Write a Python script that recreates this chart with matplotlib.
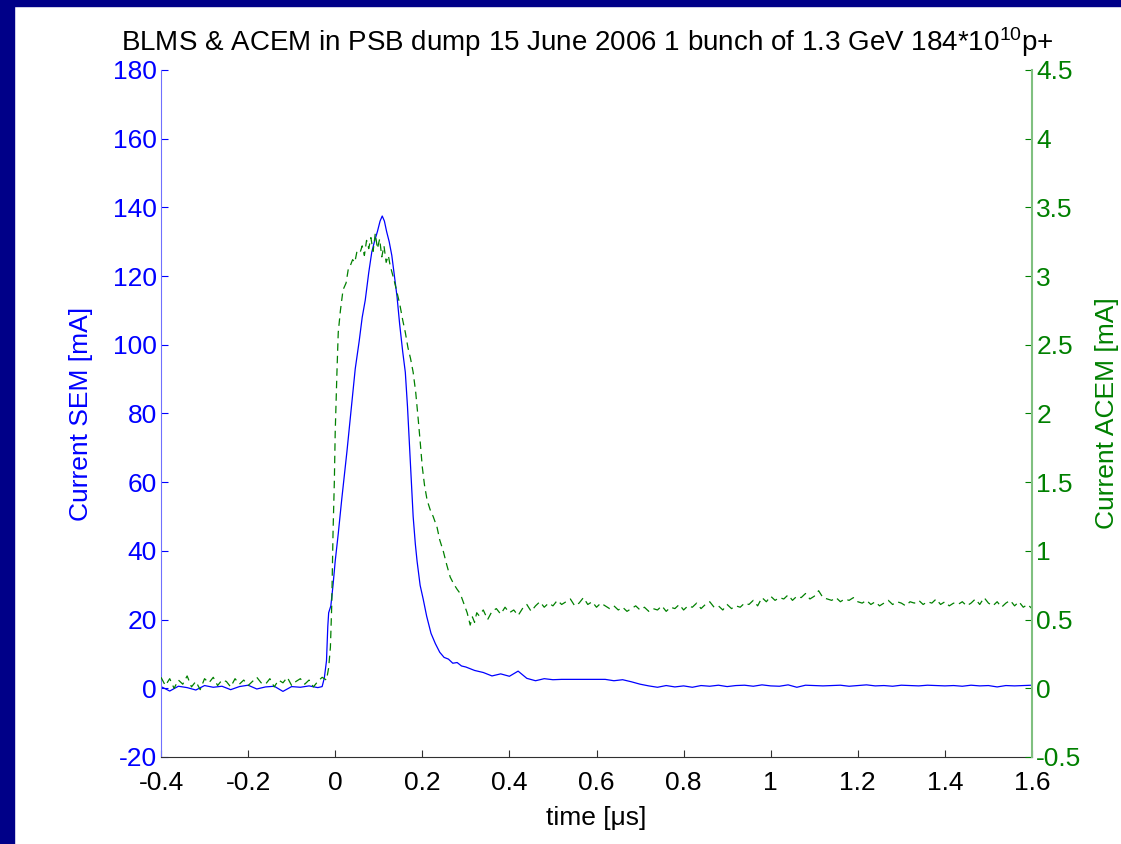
import matplotlib
matplotlib.use('Agg')
import matplotlib.pyplot as plt
from matplotlib.patches import Rectangle
from matplotlib.ticker import FormatStrFormatter, MultipleLocator

plt.rcParams['font.family'] = ['Liberation Sans', 'DejaVu Sans']
plt.rcParams['mathtext.fontset'] = 'custom'
plt.rcParams['mathtext.rm'] = 'Liberation Sans'
plt.rcParams['mathtext.default'] = 'regular'
plt.rcParams['axes.unicode_minus'] = False

# SEM-струм (ліва вісь, мА)
t_sem = [-0.40, -0.38, -0.36, -0.34, -0.32, -0.30, -0.28, -0.26, -0.24, -0.22,
         -0.20, -0.18, -0.16, -0.14, -0.12, -0.10, -0.08, -0.06, -0.04, -0.03,
         -0.025, -0.02, -0.017, -0.015, -0.01, -0.005, 0.0, 0.007, 0.015, 0.027,
         0.035, 0.046, 0.055, 0.062, 0.069, 0.077, 0.084, 0.09, 0.097, 0.103,
         0.108, 0.113, 0.118, 0.124, 0.13, 0.136, 0.142, 0.148, 0.155, 0.161,
         0.166, 0.17, 0.175, 0.179, 0.184, 0.188, 0.195, 0.202, 0.21, 0.22,
         0.23, 0.24, 0.25, 0.26, 0.27, 0.28, 0.29,
         0.30, 0.32, 0.34, 0.36, 0.38, 0.40, 0.42, 0.44, 0.46, 0.48,
         0.50, 0.52, 0.54, 0.56, 0.58, 0.60, 0.62, 0.64, 0.66, 0.68,
         0.70, 0.72, 0.74, 0.76, 0.78, 0.80, 0.82, 0.84, 0.86, 0.88,
         0.90, 0.92, 0.94, 0.96, 0.98, 1.00, 1.02, 1.04, 1.06, 1.08,
         1.10, 1.12, 1.14, 1.16, 1.18, 1.20, 1.22, 1.24, 1.26, 1.28,
         1.30, 1.32, 1.34, 1.36, 1.38, 1.40, 1.42, 1.44, 1.46, 1.48,
         1.50, 1.52, 1.54, 1.56, 1.58, 1.60]
sem = [0.5, -0.8, 0.6, 0.2, -0.5, 0.8, 0.3, 0.6, -0.4, 0.5,
       0.9, -0.2, 0.4, 0.6, -0.9, 0.5, 0.3, 0.7, 0.2, 0.5,
       3, 8, 18, 22, 24, 30, 37, 45, 55, 69,
       79, 93, 101, 108, 113, 121, 127, 130, 133, 136,
       137.5, 136, 133, 130, 126, 120, 114, 106, 98, 92,
       82, 72, 60, 50, 42, 37, 30, 26, 21, 16,
       13, 10.5, 9, 8.5, 7.3, 7.5, 6.5,
       6.2, 5.2, 4.6, 3.6, 4.2, 3.5, 5.0, 2.9, 2.2, 2.8,
       2.5, 2.6, 2.6, 2.6, 2.6, 2.6, 2.6, 2.2, 2.5, 1.9,
       1.2, 0.7, 0.3, 0.8, 0.4, 0.7, 0.3, 0.8, 0.6, 0.9,
       0.5, 0.8, 0.9, 0.6, 1.0, 0.7, 0.6, 1.0, 0.3, 0.9,
       0.8, 0.7, 0.8, 0.9, 0.6, 0.8, 1.0, 0.7, 0.8, 0.6,
       0.9, 0.8, 0.7, 0.9, 0.8, 0.7, 0.8, 0.6, 0.9, 0.7,
       0.8, 0.4, 0.8, 0.7, 0.8, 0.9]

# ACEM-струм (права вісь, мА)
t_acem = [-0.40, -0.39, -0.38, -0.37, -0.36, -0.35, -0.34, -0.33, -0.32, -0.31,
          -0.30, -0.29, -0.28, -0.27, -0.26, -0.25, -0.24, -0.23, -0.22, -0.21,
          -0.20, -0.19, -0.18, -0.17, -0.16, -0.15, -0.14, -0.13, -0.12, -0.11,
          -0.10, -0.09, -0.08, -0.07, -0.06, -0.05, -0.04, -0.03, -0.02,
          -0.015, -0.011, -0.008, -0.005, -0.002, 0.0, 0.004, 0.007, 0.012, 0.018,
          0.025, 0.03, 0.034, 0.04, 0.045, 0.05, 0.057, 0.062, 0.067, 0.072,
          0.077, 0.082, 0.087, 0.092, 0.097, 0.102, 0.107, 0.112, 0.117, 0.122,
          0.126, 0.131, 0.136, 0.142, 0.148, 0.155, 0.161, 0.167, 0.173, 0.179,
          0.185, 0.19, 0.195, 0.2, 0.205, 0.211, 0.218, 0.225, 0.234, 0.24,
          0.248, 0.256, 0.264, 0.272, 0.28, 0.287, 0.295, 0.303, 0.31, 0.315,
          0.32, 0.325,
          0.33, 0.34, 0.35, 0.36, 0.37, 0.38, 0.39, 0.40, 0.41, 0.42,
          0.43, 0.44, 0.45, 0.46, 0.47, 0.48, 0.49, 0.50, 0.51, 0.52,
          0.53, 0.54, 0.55, 0.56, 0.57, 0.58, 0.59, 0.60, 0.61, 0.62,
          0.63, 0.64, 0.65, 0.66, 0.67, 0.68, 0.69, 0.70, 0.71, 0.72,
          0.73, 0.74, 0.75, 0.76, 0.77, 0.78, 0.79, 0.80, 0.81, 0.82,
          0.83, 0.84, 0.85, 0.86, 0.87, 0.88, 0.89, 0.90, 0.91, 0.92,
          0.93, 0.94, 0.95, 0.96, 0.97, 0.98, 0.99, 1.00, 1.01, 1.02,
          1.03, 1.04, 1.05, 1.06, 1.07, 1.08, 1.09, 1.10, 1.11, 1.12,
          1.13, 1.14, 1.15, 1.16, 1.17, 1.18, 1.19, 1.20, 1.21, 1.22,
          1.23, 1.24, 1.25, 1.26, 1.27, 1.28, 1.29, 1.30, 1.31, 1.32,
          1.33, 1.34, 1.35, 1.36, 1.37, 1.38, 1.39, 1.40, 1.41, 1.42,
          1.43, 1.44, 1.45, 1.46, 1.47, 1.48, 1.49, 1.50, 1.51, 1.52,
          1.53, 1.54, 1.55, 1.56, 1.57, 1.58, 1.59, 1.60]
acem = [0.08, 0.02, 0.07, 0.0, 0.06, 0.03, 0.09, 0.01, 0.05, -0.01,
        0.07, 0.04, 0.08, 0.02, 0.06, 0.05, 0.01, 0.07, 0.03, 0.06,
        0.02, 0.05, 0.08, 0.04, 0.03, 0.07, 0.01, 0.06, 0.04, 0.08,
        0.02, 0.05, 0.07, 0.03, 0.06, 0.01, 0.05, 0.08, 0.06,
        0.15, 0.3, 0.6, 1.13, 1.5, 1.86, 2.3, 2.59, 2.75, 2.9,
        2.95, 3.05, 3.07, 3.12, 3.1, 3.18, 3.17, 3.22, 3.15, 3.26,
        3.2, 3.28, 3.18, 3.31, 3.2, 3.27, 3.14, 3.22, 3.1, 3.15,
        3.08, 3.02, 2.96, 2.88, 2.8, 2.68, 2.59, 2.48, 2.4, 2.3,
        2.15, 1.98, 1.8, 1.61, 1.48, 1.37, 1.3, 1.25, 1.17, 1.08,
        1.0, 0.9, 0.81, 0.76, 0.72, 0.69, 0.62, 0.55, 0.46, 0.52,
        0.48, 0.55,
        0.53, 0.57, 0.50, 0.56, 0.58, 0.54, 0.59, 0.55, 0.57, 0.53,
        0.58, 0.61, 0.56, 0.60, 0.63, 0.59, 0.62, 0.60, 0.64, 0.61,
        0.63, 0.65, 0.60, 0.62, 0.66, 0.61, 0.63, 0.59, 0.62, 0.60,
        0.58, 0.60, 0.57, 0.59, 0.56, 0.58, 0.60, 0.57, 0.59, 0.56,
        0.58, 0.57, 0.60, 0.56, 0.59, 0.58, 0.61, 0.57, 0.60, 0.59,
        0.62, 0.58, 0.61, 0.63, 0.59, 0.60, 0.57, 0.61, 0.58, 0.60,
        0.59, 0.62, 0.61, 0.64, 0.60, 0.66, 0.63, 0.67, 0.64, 0.66,
        0.65, 0.68, 0.64, 0.67, 0.66, 0.69, 0.65, 0.67, 0.71, 0.66,
        0.65, 0.64, 0.66, 0.63, 0.65, 0.64, 0.66, 0.63, 0.62, 0.64,
        0.61, 0.63, 0.60, 0.62, 0.64, 0.61, 0.63, 0.62, 0.60, 0.63,
        0.62, 0.64, 0.61, 0.63, 0.62, 0.65, 0.61, 0.63, 0.60, 0.62,
        0.61, 0.63, 0.60, 0.62, 0.65, 0.61, 0.66, 0.62, 0.60, 0.63,
        0.59, 0.62, 0.64, 0.60, 0.63, 0.59, 0.61, 0.58]

BLUE = '#0000FF'
GREEN = '#008000'
FS = 19

fig = plt.figure(figsize=(11.21, 8.44), dpi=100)
# темно-синя рамка слайду
fig.patches.append(Rectangle((0, 0), 14 / 1121, 1, transform=fig.transFigure,
                             color='#000088', zorder=0))
fig.patches.append(Rectangle((0, 1 - 6 / 844), 1, 6 / 844, transform=fig.transFigure,
                             color='#000088', zorder=0))

ax = fig.add_axes([161 / 1121, 1 - 757 / 844, (1032 - 161) / 1121, (757 - 70) / 844])
ax2 = ax.twinx()

ax.plot(t_sem, sem, color=BLUE, lw=0.9)
ax2.plot(t_acem, acem, color=GREEN, lw=0.9, dashes=(6, 4))

ax.set_xlim(-0.4, 1.6)
ax.set_ylim(-20, 180)
ax2.set_ylim(-0.5, 4.5)
ax.xaxis.set_major_locator(MultipleLocator(0.2))
ax.yaxis.set_major_locator(MultipleLocator(20))
ax2.yaxis.set_major_locator(MultipleLocator(0.5))
ax.xaxis.set_major_formatter(FormatStrFormatter('%g'))
ax.yaxis.set_major_formatter(FormatStrFormatter('%g'))
ax2.yaxis.set_major_formatter(FormatStrFormatter('%g'))

for a in (ax, ax2):
    a.spines['top'].set_visible(False)
ax.spines['right'].set_visible(False)
ax2.spines['left'].set_visible(False)
ax2.spines['bottom'].set_visible(False)
ax.spines['left'].set_color('#7070ff')
ax.spines['bottom'].set_color('#303030')
ax2.spines['right'].set_color('#80c080')
ax2.spines['right'].set_linewidth(1.5)

ax.tick_params(axis='x', direction='in', length=5, colors='#303030', labelcolor='black',
               labelsize=FS, pad=10)
ax.tick_params(axis='y', direction='in', length=5, colors=BLUE, labelsize=FS, pad=3)
ax2.tick_params(axis='y', direction='in', length=5, colors=GREEN, labelsize=FS, pad=3)

ax.set_xlabel('time [μs]', fontsize=FS, labelpad=8)
ax.set_ylabel('Current SEM [mA]', fontsize=FS, color=BLUE, labelpad=14)
ax2.set_ylabel('Current ACEM [mA]', fontsize=FS, color=GREEN, labelpad=10)
ax.set_title('BLMS & ACEM in PSB dump 15 June 2006 1 bunch of 1.3 GeV 184*10$^{10}$p+',
             fontsize=20, pad=14, x=0.49)

fig.savefig('out.png', dpi=100)
